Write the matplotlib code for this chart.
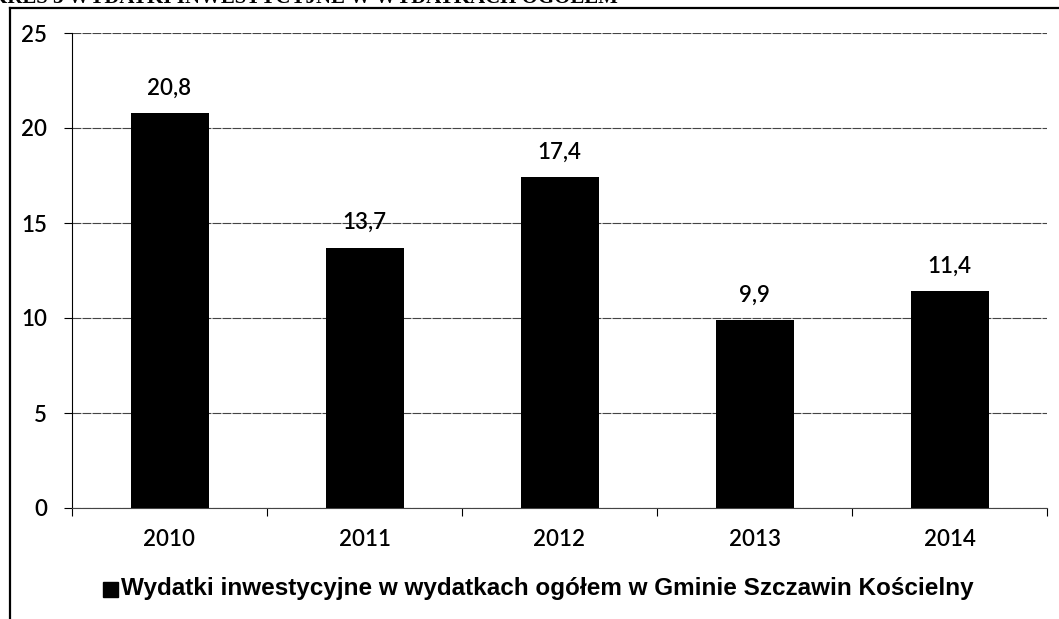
import matplotlib
matplotlib.use("Agg")
import matplotlib.pyplot as plt
from matplotlib.lines import Line2D
from matplotlib.patches import Rectangle

years = ["2010", "2011", "2012", "2013", "2014"]
values = [20.8, 13.7, 17.4, 9.9, 11.4]
value_labels = ["20,8", "13,7", "17,4", "9,9", "11,4"]
yticks = [0, 5, 10, 15, 20, 25]
legend_label = "Wydatki inwestycyjne w wydatkach ogółem w Gminie Szczawin Kościelny"
title = "WYKRES 3 WYDATKI INWESTYCYJNE W WYDATKACH OGÓŁEM"

W, H = 1059, 619
fig = plt.figure(figsize=(W/100, H/100), dpi=100)
ax = fig.add_axes([72/W, 1-508/H, (1047-72)/W, (508-33)/H])

lab_font = dict(fontsize=16, family="Lato", fontweight="semibold")

x = list(range(len(years)))
ax.bar(x, values, width=0.4, color="black", zorder=3)
for xi, v, lab in zip(x, values, value_labels):
    ax.annotate(lab, (xi, v), xytext=(0, 18), textcoords="offset points",
                ha="center", va="center", color="black", **lab_font)

ax.set_xlim(-0.5, len(years)-0.5)
ax.set_ylim(0, 25)
ax.set_yticks(yticks)
ax.set_yticklabels([str(t) for t in yticks], **lab_font)
ax.set_xticks(x)
ax.set_xticklabels(years, **lab_font)
ax.tick_params(axis="x", length=0, pad=15)
ax.tick_params(axis="y", length=6, width=0.8, pad=12, direction="out")
# category boundary ticks
ax.set_xticks([i - 0.5 for i in range(len(years)+1)], minor=True)
ax.tick_params(axis="x", which="minor", length=6, width=0.8, direction="out")
ax.yaxis.grid(True, color="#444444", linewidth=0.8, linestyle=(0, (8, 1)), zorder=0)
for s in ["top", "right"]:
    ax.spines[s].set_visible(False)
ax.spines["left"].set_linewidth(0.8)
ax.spines["bottom"].set_linewidth(0.8)
ax.spines["bottom"].set_color("#444444")

# outer frame
fig.add_artist(Line2D([10/W, 10/W], [0, 1-8/H], color="black", linewidth=1.6, transform=fig.transFigure))
fig.add_artist(Line2D([10/W, 1], [1-8/H, 1-8/H], color="black", linewidth=1.6, transform=fig.transFigure))

# clipped title (cut off at the top edge as in the source)
fig.text(-45/W, 1+2/H, title, ha="left", va="center", fontsize=15, family="Liberation Serif",
         fontweight="bold", color="black")

# legend
leg_y = 1 - 589/H
fig.add_artist(Rectangle((103/W, 1-597/H), 15/W, 15/H, color="black", transform=fig.transFigure))
fig.text(121/W, leg_y, legend_label, ha="left", va="center", fontsize=17.5, family="Liberation Sans",
         fontweight="bold", color="black")

fig.savefig("out.png", dpi=100)
